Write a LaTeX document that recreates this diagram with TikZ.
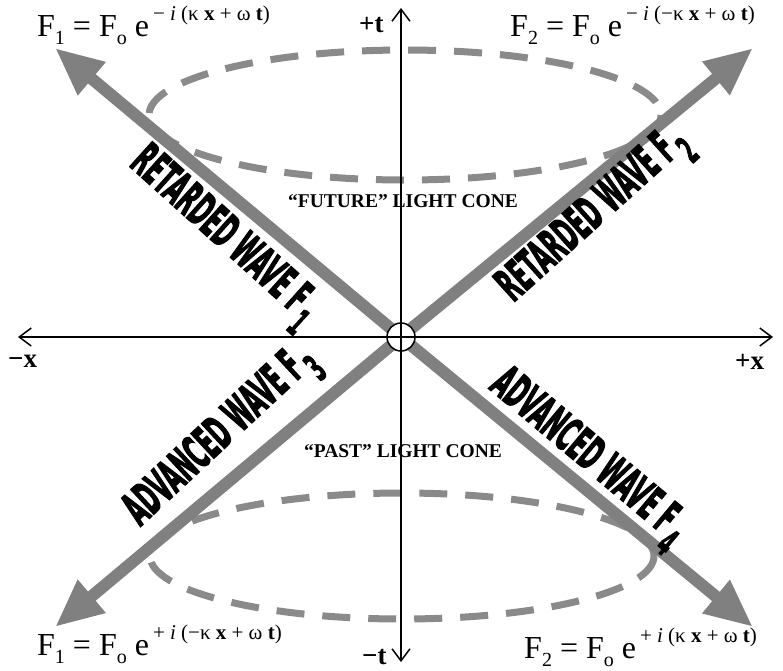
\documentclass[tikz,border=0pt]{standalone}
\usepackage{fontspec}
\setmainfont{Liberation Serif}
\newfontfamily\heavyfont{DejaVu Sans}[BoldFeatures={FakeBold=3.5}]
\usetikzlibrary{arrows.meta}
\definecolor{wavegray}{HTML}{808080}
\definecolor{conegray}{HTML}{8A8A8A}
\newcommand{\lowsub}[1]{\raisebox{-0.28em}{\fontsize{20}{20}\selectfont #1}}
\newcommand{\highsup}[1]{\hspace{4pt}\raisebox{0.5em}{\fontsize{21}{21}\selectfont #1}}
\newcommand{\wavetext}[2]{\scalebox{0.46}[1]{#1\hspace{0.12em}\raisebox{-0.36em}{\fontsize{38}{38}\selectfont #2}}}
\begin{document}
\begin{tikzpicture}[x=1pt,y=-1pt,
  wave/.style={draw=wavegray, line width=12pt, -{Triangle[length=48pt,width=40pt]}},
  cone/.style={draw=conegray, line width=7pt, dash pattern=on 28pt off 18pt},
  axis/.style={line width=1.5pt, -{Straight Barb[length=12pt,width=18pt,line width=1.5pt]}},
  conelabel/.style={font=\bfseries\fontsize{19.5}{19.5}\selectfont, inner sep=0},
  formula/.style={font=\fontsize{32}{32}\selectfont, anchor=base west, inner sep=0},
  axlabel/.style={font=\bfseries\fontsize{27}{27}\selectfont, inner sep=0, anchor=base west},
  wavelabel/.style={font=\heavyfont\bfseries\fontsize{46}{46}\selectfont, inner sep=0, anchor=base west}
]
\useasboundingbox (0,0) rectangle (783,670);
% light cones
\coordinate (fcone) at (405,115);
\coordinate (pcone) at (402,556);
\draw[cone] (fcone) ellipse [x radius=256, y radius=65];
\draw[cone] (pcone) ellipse [x radius=252, y radius=63];
% centre and wave tips
\coordinate (O) at (401,337);
\coordinate (t1) at (55,48);
\coordinate (t2) at (753,48);
\coordinate (t3) at (55,627);
\coordinate (t4) at (753,627);
\draw[wave] (O) -- (t1);
\draw[wave] (O) -- (t2);
\draw[wave] (O) -- (t3);
\draw[wave] (O) -- (t4);
\node (origin) [circle, draw, fill=white, line width=1.5pt, minimum size=28pt, inner sep=0] at (O) {};
% axes
\coordinate (xl) at (18,337);
\coordinate (xr) at (773,337);
\coordinate (tu) at (401,8);
\coordinate (td) at (401,662);
\draw[axis] (O) -- (xl);
\draw[axis] (O) -- (xr);
\draw[axis] (O) -- (tu);
\draw[axis] (O) -- (td);
% axis labels
\node (lpt) [axlabel] at (359,32) {+t};
\node (lmt) [axlabel] at (362,664) {−t};
\node (lmx) [axlabel] at (8,367) {−x};
\node (lpx) [axlabel] at (735,369) {+x};
% cone labels
\node (futl) [conelabel] at (403,201) {“FUTURE” LIGHT CONE};
\node (pastl) [conelabel] at (403,451) {“PAST” LIGHT CONE};
% formulas
\node (f1) [formula] at (37,36) {F\lowsub{1} = F\lowsub{o} e\highsup{− \textit{i} (κ \textbf{x} + ω \textbf{t})}};
\node (f2) [formula] at (510,36) {F\lowsub{2} = F\lowsub{o} e\highsup{− \textit{i} (−κ \textbf{x} + ω \textbf{t})}};
\node (f3) [formula] at (37,655) {F\lowsub{1} = F\lowsub{o} e\highsup{+ \textit{i} (−κ \textbf{x} + ω \textbf{t})}};
\node (f4) [formula] at (524,658) {F\lowsub{2} = F\lowsub{o} e\highsup{+ \textit{i} (κ \textbf{x} + ω \textbf{t})}};
% wave labels
\node (w1) [wavelabel, rotate=-42] at (128,165) {\wavetext{RETARDED WAVE F}{1}};
\node (w2) [wavelabel, rotate=42] at (513,303) {\wavetext{RETARDED WAVE F}{2}};
\node (w3) [wavelabel, rotate=43] at (140,527) {\wavetext{ADVANCED WAVE F}{3}};
\node (w4) [wavelabel, rotate=-40] at (488,388) {\wavetext{ADVANCED WAVE F}{4}};
\end{tikzpicture}
\end{document}
